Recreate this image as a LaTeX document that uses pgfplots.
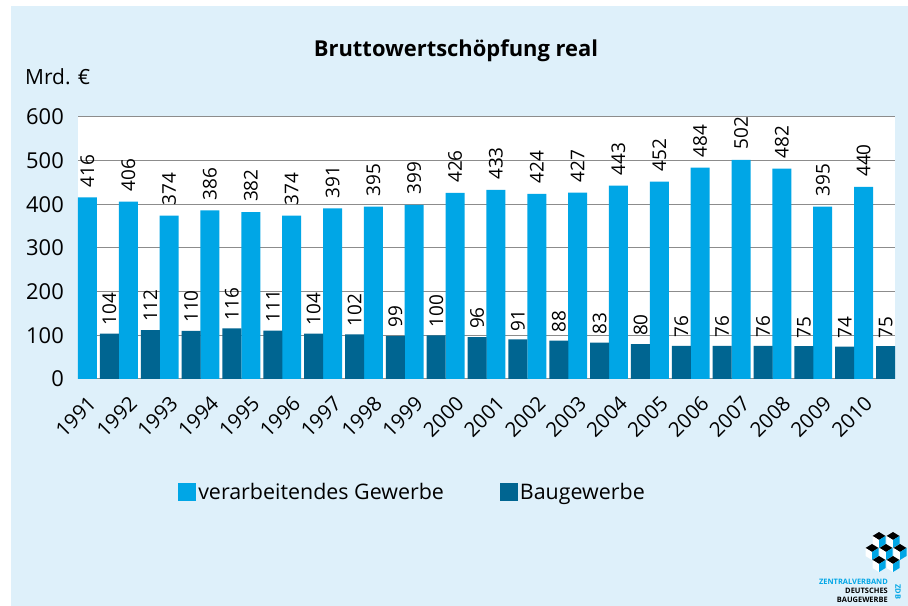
\documentclass[border=0pt]{standalone}
\usepackage{pgfplots}
\pgfplotsset{compat=1.18}
\usepackage{fontspec}
\setmainfont{Open Sans}
\definecolor{cyanbar}{HTML}{00A6E6}
\definecolor{darkbar}{HTML}{006591}
\definecolor{bgblue}{HTML}{DEF0FA}
\definecolor{gridgray}{HTML}{8C8C8C}
\begin{document}
\begin{tikzpicture}[x=1bp,y=1bp]
\useasboundingbox (0,0) rectangle (908,606);
\fill[white] (0,0) rectangle (908,606);
\fill[bgblue] (11,0) rectangle (908,600);
\begin{axis}[
  at={(78bp,227bp)}, anchor=south west,
  scale only axis, width=817bp, height=262bp,
  xmin=-0.5, xmax=19.5, ymin=0, ymax=600,
  /pgf/number format/assume math mode=true,
  ytick={0,100,...,600},
  xtick={0,...,19},
  xticklabels={1991,1992,1993,1994,1995,1996,1997,1998,1999,2000,2001,2002,2003,2004,2005,2006,2007,2008,2009,2010},
  axis background/.style={fill=white},
  ymajorgrids, grid style={gridgray, line width=1bp},
  axis x line*=bottom, axis y line*=left,
  y axis line style={draw=none},
  x axis line style={gridgray, line width=1bp, -},
  major tick length=0pt,
  tick label style={font=\fontsize{22}{26}\selectfont},
  yticklabel style={inner sep=0pt, xshift=-14bp},
  xticklabel style={font=\fontsize{20.5}{24}\selectfont, xshift=-6bp, yshift=-21bp, rotate=45, anchor=east, inner sep=0pt},
  clip=false,
  legend style={at={(axis description cs:0.1188,-0.431)}, anchor=west, draw=none, fill=none,
    font=\fontsize{21.5}{26}\selectfont, nodes={inner sep=2bp},
    /tikz/every even column/.append style={column sep=54bp}},
  legend columns=2,
  legend image code/.code={\fill[#1] (0bp,-9bp) rectangle (18bp,9bp);},
]
\addplot[ybar, bar width=19bp, bar shift=-11bp, fill=cyanbar, draw=none, nodes near coords,
  every node near coord/.style={xshift=-11bp, rotate=90, anchor=west, inner xsep=10bp, inner ysep=0pt, font=\fontsize{19}{22}\selectfont, text=black}] coordinates {
(0,416) (1,406) (2,374) (3,386) (4,382) (5,374) (6,391) (7,395) (8,399) (9,426)
(10,433) (11,424) (12,427) (13,443) (14,452) (15,484) (16,502) (17,482) (18,395) (19,440)};
\addlegendentry{verarbeitendes Gewerbe}
\addplot[ybar, bar width=19bp, bar shift=11bp, fill=darkbar, draw=none, nodes near coords,
  every node near coord/.style={xshift=11bp, rotate=90, anchor=west, inner xsep=8bp, inner ysep=0pt, font=\fontsize{19}{22}\selectfont, text=black}] coordinates {
(0,104) (1,112) (2,110) (3,116) (4,111) (5,104) (6,102) (7,99) (8,100) (9,96)
(10,91) (11,88) (12,83) (13,80) (14,76) (15,76) (16,76) (17,75) (18,74) (19,75)};
\addlegendentry{Baugewerbe}
\end{axis}
\node[anchor=base, font=\bfseries\fontsize{22}{26}\selectfont, inner sep=0pt] at (456,549) {Bruttowertschöpfung real};
\node[anchor=base west, font=\fontsize{21}{26}\selectfont, inner sep=0pt] at (25,521) {Mrd. €};
% logo
\foreach \cx/\cy in {879/70,893/70,872/58,886/58,900/58,879/46,893/46} {
  \fill[black] (\cx-6.5,\cy) -- (\cx,\cy+4) -- (\cx+6.5,\cy) -- (\cx,\cy-4) -- cycle;
  \fill[white] (\cx-6.5,\cy) -- (\cx,\cy-4) -- (\cx,\cy-12) -- (\cx-6.5,\cy-8) -- cycle;
  \fill[cyanbar] (\cx+6.5,\cy) -- (\cx,\cy-4) -- (\cx,\cy-12) -- (\cx+6.5,\cy-8) -- cycle;
}
\node[anchor=base east, font=\bfseries\fontsize{7.5}{8}\selectfont, text=cyanbar, inner sep=0pt] at (888,21) {ZENTRALVERBAND};
\node[anchor=base east, font=\bfseries\fontsize{7.5}{8}\selectfont, inner sep=0pt] at (888,12) {DEUTSCHES};
\node[anchor=base east, font=\bfseries\fontsize{7.5}{8}\selectfont, inner sep=0pt] at (888,3) {BAUGEWERBE};
\node[rotate=-90, font=\bfseries\fontsize{7.5}{8}\selectfont, text=cyanbar, inner sep=0pt] at (898,14) {ZDB};
\end{tikzpicture}
\end{document}
